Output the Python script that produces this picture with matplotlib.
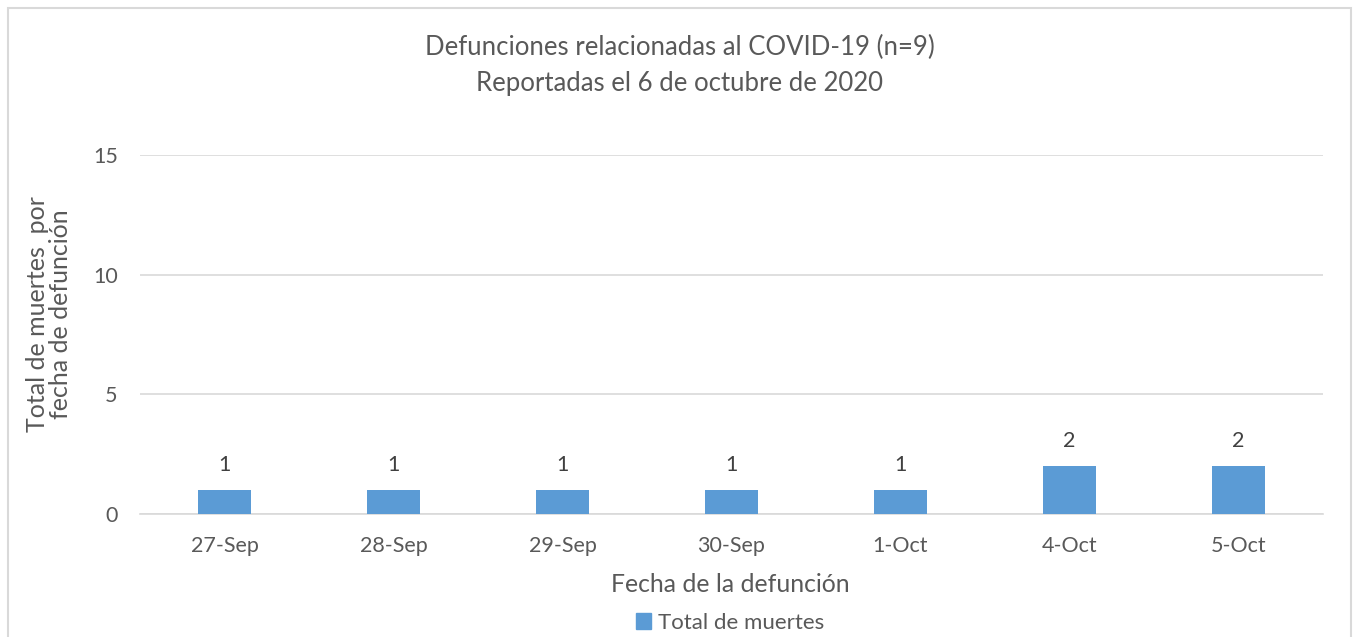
import matplotlib
matplotlib.use("Agg")
import matplotlib.pyplot as plt
from matplotlib.patches import Rectangle, Patch

categories = ["27-Sep", "28-Sep", "29-Sep", "30-Sep", "1-Oct", "4-Oct", "5-Oct"]
values = [1, 1, 1, 1, 1, 2, 2]
yticks = [0, 5, 10, 15]

plt.rcParams['font.family'] = ['Lato', 'DejaVu Sans']
txt = '#595959'
bar_c = '#5B9BD5'

W, H = 1353, 637
fig = plt.figure(figsize=(W / 100, H / 100), dpi=100)
ax = fig.add_axes([140 / W, 1 - 514 / H, (1323 - 140) / W, (514 - 155) / H])

x = list(range(len(categories)))
bars = ax.bar(x, values, width=0.314, color=bar_c, zorder=3)
for xi, v in zip(x, values):
    ax.annotate(str(v), (xi, v), xytext=(0, 18), textcoords='offset points',
                ha='center', va='center', fontsize=15.5, color='#404040')

ax.set_xlim(-0.5, len(categories) - 0.5)
ax.set_ylim(0, 15)
ax.set_yticks(yticks)
ax.set_xticks(x)
ax.set_xticklabels(categories)
ax.tick_params(axis='both', length=0, labelsize=15.5, colors=txt)
ax.tick_params(axis='x', pad=16)
ax.tick_params(axis='y', pad=16)
ax.grid(axis='y', color='#D9D9D9', linewidth=1.2, zorder=0)
for s in ['top', 'right', 'left']:
    ax.spines[s].set_visible(False)
ax.spines['bottom'].set_color('#D9D9D9')
ax.spines['bottom'].set_linewidth(1.2)

fig.text(680 / W, 1 - 47 / H, "Defunciones relacionadas al COVID-19 (n=9)",
         ha='center', va='center', fontsize=18.5, color=txt)
fig.text(680 / W, 1 - 84 / H, "Reportadas el 6 de octubre de 2020",
         ha='center', va='center', fontsize=18.5, color=txt)
fig.text(49 / W, 1 - 314 / H, "Total de muertes  por\nfecha de defunción",
         ha='center', va='center', rotation=90, fontsize=18, color=txt,
         linespacing=1.0)
fig.text(730 / W, 1 - 585 / H, "Fecha de la defunción",
         ha='center', va='center', fontsize=17.8, color=txt)

leg = fig.legend(handles=[Patch(color=bar_c, label='Total de muertes')],
                 loc='center', bbox_to_anchor=(730 / W, 1 - 623 / H),
                 frameon=False, fontsize=16, handlelength=0.7, handleheight=0.7,
                 handletextpad=0.3, labelcolor=txt, borderpad=0)

fig.patches.append(Rectangle((8 / W, -0.1), (1351 - 8) / W, 1.1 - 8 / H,
                             transform=fig.transFigure, fill=False,
                             edgecolor='#D9D9D9', linewidth=1.5))

fig.savefig("out.png", dpi=100, facecolor='white')
